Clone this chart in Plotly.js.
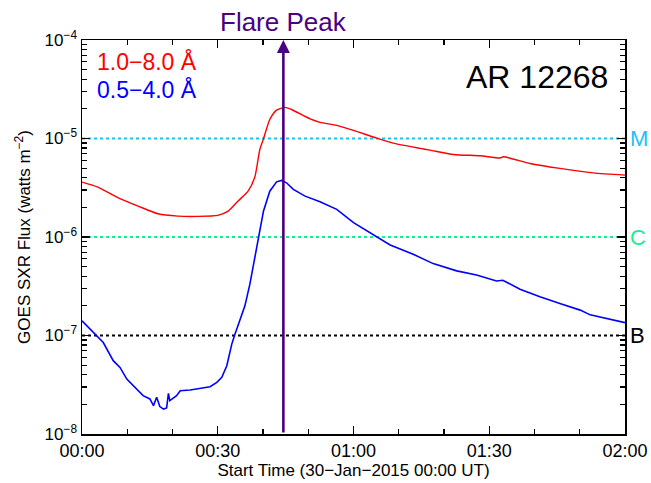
<!DOCTYPE html>
<html>
<head>
<meta charset="utf-8">
<script src="https://cdn.plot.ly/plotly-3.0.1.min.js"></script>
<style>html,body{margin:0;padding:0;background:#fff;}#chart{width:651px;height:483px;}</style>
</head>
<body>
<div id="chart"></div>
<script>
// Time in minutes after 30-Jan-2015 00:00 UT
const redTime = [0,3.5,8,12.4,16.8,21.2,25.6,30,32.3,34.5,36.7,38.2,39.3,40.1,41.5,43.0,44.9,46.3,50.4,52.6,56.3,60,65.1,69.5,74.7,76.9,82.1,88,92.4,93.1,99,105.6,113,120];
const redFlux = [3.61e-6,3.21e-6,2.50e-6,2.06e-6,1.72e-6,1.63e-6,1.62e-6,1.66e-6,1.83e-6,2.32e-6,2.92e-6,4.07e-6,7.74e-6,9.91e-6,1.56e-5,1.94e-5,2.07e-5,1.97e-5,1.58e-5,1.46e-5,1.36e-5,1.21e-5,1.01e-5,8.81e-6,7.93e-6,7.62e-6,6.89e-6,6.67e-6,6.35e-6,6.52e-6,5.58e-6,4.97e-6,4.48e-6,4.25e-6];

const blueTime = [0,2.5,4.7,6.9,8.4,9.9,12.1,13.5,15.0,15.8,16.5,17.2,18,18.7,19.1,19.4,20.9,21.7,23.9,26.1,28.3,29.8,30.9,32.0,33.1,33.8,34.9,36.0,37.1,38.2,39.0,40.1,41.5,43.0,44.1,45.2,46.7,49.3,52.6,56.3,60,65.1,68.1,73.2,77.6,82.8,87.2,91.6,93,96.8,101.2,105.6,110.1,112.3,116.7,120];
const blueFlux = [1.41e-7,1.07e-7,8.49e-8,5.55e-8,4.74e-8,3.61e-8,2.86e-8,2.45e-8,2.27e-8,1.94e-8,2.36e-8,1.90e-8,1.79e-8,1.84e-8,2.58e-8,2.18e-8,2.45e-8,2.75e-8,2.80e-8,2.93e-8,3.02e-8,3.34e-8,3.76e-8,4.93e-8,8.18e-8,1.03e-7,1.41e-7,2.00e-7,3.32e-7,6.17e-7,9.84e-7,1.83e-6,2.92e-6,3.63e-6,3.75e-6,3.55e-6,3.04e-6,2.60e-6,2.28e-6,1.91e-6,1.40e-6,1.00e-6,8.30e-7,6.68e-7,5.37e-7,4.53e-7,4.12e-7,3.58e-7,3.64e-7,2.95e-7,2.47e-7,2.11e-7,1.81e-7,1.62e-7,1.47e-7,1.35e-7];

const xTickVals = [0,30,60,90,120];
const xTickText = ["00:00","00:30","01:00","01:30","02:00"];
const yTickVals = [1e-8,1e-7,1e-6,1e-5,1e-4];
const yTickText = ["10<sup>−8</sup>","10<sup>−7</sup>","10<sup>−6</sup>","10<sup>−5</sup>","10<sup>−4</sup>"];

const levelNames = ["B","C","M"];
const levelValues = [1e-7,1e-6,1e-5];
const levelColors = ["#000000","#16ee96","#16c4f5"];

const peakTime = 44.5;
const legendNames = ["1.0−8.0 Å","0.5−4.0 Å"];
const regionName = "AR 12268";

const minorY = [];
for (let e = -8; e < -4; e++) for (let m = 2; m <= 9; m++) minorY.push(m * Math.pow(10, e));

const FONT = "Liberation Sans, Arial, Helvetica, sans-serif";

const traces = [];
levelValues.forEach((v, i) => {
  traces.push({x:[0,120], y:[v,v], mode:'lines', line:{color:levelColors[i], width:2, dash:'dot'}, hoverinfo:'skip'});
});
traces.push({x:redTime, y:redFlux, mode:'lines', line:{color:'#ff0000', width:1.4, shape:'spline', smoothing:0.6}, name:legendNames[0]});
traces.push({x:blueTime, y:blueFlux, mode:'lines', line:{color:'#0000ff', width:1.6, shape:'linear'}, name:legendNames[1]});

const annotations = [];
levelValues.forEach((v, i) => {
  annotations.push({xref:'paper', x:1, yref:'y', y:Math.log10(v), text:levelNames[i], showarrow:false,
    xanchor:'left', xshift:3, font:{family:FONT, size:22, color:levelColors[i]}});
});
annotations.push({xref:'paper', x:0.024, yref:'paper', y:0.945, text:legendNames[0], showarrow:false, xanchor:'left', yanchor:'middle', font:{family:FONT, size:23, color:'#ff0000'}});
annotations.push({xref:'paper', x:0.024, yref:'paper', y:0.874, text:legendNames[1], showarrow:false, xanchor:'left', yanchor:'middle', font:{family:FONT, size:23, color:'#0000ff'}});
annotations.push({xref:'paper', x:0.972, yref:'paper', y:0.905, text:regionName, showarrow:false, xanchor:'right', yanchor:'middle', font:{family:FONT, size:32, color:'#000000'}});
annotations.push({xref:'x', x:peakTime, yref:'paper', y:1.0, yshift:18, text:'Flare Peak', showarrow:false, xanchor:'center', yanchor:'middle', font:{family:FONT, size:26, color:'#4b0082'}});
annotations.push({xref:'x', x:peakTime, yref:'y', y:-4, axref:'x', ax:peakTime, ayref:'y', ay:-8, text:'', showarrow:true,
  arrowhead:2, arrowsize:1, arrowwidth:2.6, arrowcolor:'#4b0082', standoff:0, startstandoff:0});

const layout = {
  width:651, height:483,
  margin:{l:82, r:26, t:40, b:49},
  paper_bgcolor:'#ffffff', plot_bgcolor:'#ffffff',
  showlegend:false,
  font:{family:FONT, color:'#000'},
  xaxis:{
    range:[0,120], tickvals:xTickVals, ticktext:xTickText,
    ticks:'inside', ticklen:8, tickwidth:1.2, tickcolor:'#000',
    showline:true, linecolor:'#000', linewidth:1.5, mirror:'ticks',
    showgrid:false, zeroline:false,
    tickfont:{family:FONT, size:18, color:'#000'},
    minor:{dtick:10, tick0:0, ticks:'inside', ticklen:5, tickcolor:'#000', tickwidth:1.2, showgrid:false},
    title:{text:'Start Time (30−Jan−2015 00:00 UT)', font:{family:FONT, size:17, color:'#000'}, standoff:1}
  },
  yaxis:{
    type:'log', range:[-8,-4], tickvals:yTickVals, ticktext:yTickText,
    ticks:'inside', ticklen:8, tickwidth:1.2, tickcolor:'#000',
    showline:true, linecolor:'#000', linewidth:1.5, mirror:'ticks',
    showgrid:false, zeroline:false,
    tickfont:{family:FONT, size:17, color:'#000'},
    minor:{tickvals:minorY, ticks:'inside', ticklen:5, tickcolor:'#000', tickwidth:1.2, showgrid:false},
    title:{text:'GOES SXR Flux (watts m<sup>−2</sup>)', font:{family:FONT, size:17, color:'#000'}, standoff:9}
  },
  annotations:annotations
};

Plotly.newPlot('chart', traces, layout, {displayModeBar:false, staticPlot:true});
</script>
</body>
</html>
